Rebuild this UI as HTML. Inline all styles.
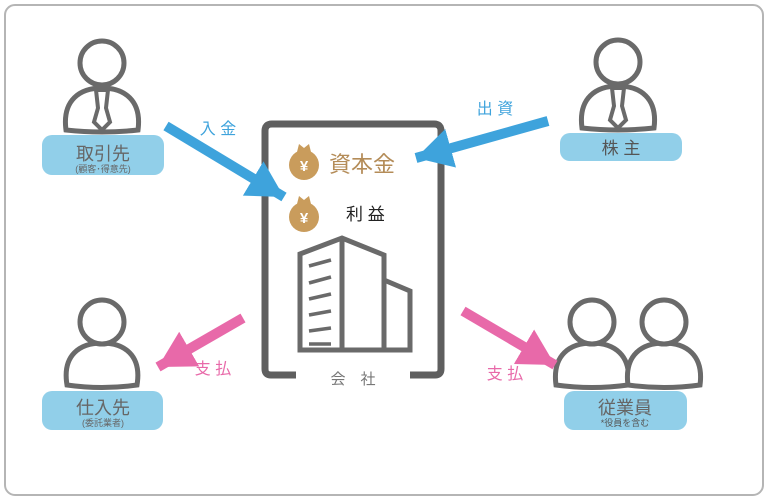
<!DOCTYPE html>
<html><head><meta charset="utf-8"><style>
html,body{margin:0;padding:0;background:#fff;}
svg{display:block;}
text{font-family:"Liberation Sans","Noto Sans CJK JP",sans-serif;}
</style></head><body>
<svg width="768" height="501" viewBox="0 0 768 501" xmlns="http://www.w3.org/2000/svg">
<defs>
<marker id="hb" markerUnits="strokeWidth" markerWidth="5" markerHeight="5" refX="3.6" refY="2" orient="auto"><path d="M0,0 L3.6,2 L0,4 Z" fill="#3ea3dc"/></marker>
<marker id="hp" markerUnits="strokeWidth" markerWidth="5" markerHeight="5" refX="3.6" refY="2" orient="auto"><path d="M0,0 L3.6,2 L0,4 Z" fill="#e869a9"/></marker>
</defs>
<rect x="5" y="5" width="758" height="490" rx="10" fill="#fff" stroke="#b5b5b5" stroke-width="2"/>

<g fill="#fff" stroke="#6a6a6a" stroke-width="5">
<path d="M66,130 C62,100 80,88 102,88 C124,88 142,100 138,130 Q102,134 66,130 Z"/>
<circle cx="102" cy="63" r="22"/>
<path d="M96,90 L108,90 L106,108 L110,122 L102,130 L94,122 L98,108 Z" stroke-width="4"/>
</g>
<rect x="42" y="135" width="122" height="40" rx="10" fill="#91cfe9"/>
<text x="103" y="160" font-size="18" fill="#666" text-anchor="middle">取引先</text>
<text x="103" y="172" font-size="9" fill="#666" text-anchor="middle">(顧客･得意先)</text>

<g fill="#fff" stroke="#6a6a6a" stroke-width="5">
<path d="M582,128 C578,98 596,86 618,86 C640,86 658,98 654,128 Q618,132 582,128 Z"/>
<circle cx="618" cy="62" r="22"/>
<path d="M612,88 L624,88 L622,106 L626,120 L618,128 L610,120 L614,106 Z" stroke-width="4"/>
</g>
<rect x="560" y="133" width="122" height="28" rx="10" fill="#91cfe9"/>
<text x="621" y="154" font-size="17" fill="#555" text-anchor="middle">株 主</text>

<g fill="#fff" stroke="#6a6a6a" stroke-width="5">
<path d="M67,385 C62,355 80,343 102,343 C124,343 142,355 137,385 Q102,390 67,385 Z"/>
<circle cx="102" cy="322" r="22"/>
</g>
<rect x="42" y="391" width="121" height="39" rx="10" fill="#91cfe9"/>
<text x="103" y="414" font-size="18" fill="#666" text-anchor="middle">仕入先</text>
<text x="103" y="426" font-size="9" fill="#666" text-anchor="middle">(委託業者)</text>

<g fill="#fff" stroke="#6a6a6a" stroke-width="5">
<path d="M556,385 C552,355 570,343 592,343 C614,343 632,355 628,385 Q592,390 556,385 Z"/>
<circle cx="592" cy="322" r="22"/>
<path d="M628,385 C624,355 642,343 664,343 C686,343 704,355 700,385 Q664,390 628,385 Z"/>
<circle cx="664" cy="322" r="22"/>
</g>
<rect x="564" y="391" width="123" height="39" rx="10" fill="#91cfe9"/>
<text x="625" y="414" font-size="18" fill="#666" text-anchor="middle">従業員</text>
<text x="625" y="426" font-size="9" fill="#555" text-anchor="middle">*役員を含む</text>

<path d="M296,375 L271,375 Q265,375 265,369 L265,131 Q265,124 272,124 L434,124 Q441,124 441,131 L441,369 Q441,375 435,375 L410,375" fill="none" stroke="#5f5f5f" stroke-width="7"/>
<text x="353" y="384" font-size="15" fill="#777" text-anchor="middle">会　社</text>

<g fill="#c99c5c">
<circle cx="304" cy="165" r="15"/><path d="M297,152 L299,144 L304,148 L309,144 L311,152 Z"/>
<circle cx="304" cy="217" r="15"/><path d="M297,204 L299,196 L304,200 L309,196 L311,204 Z"/>
</g>
<text x="304" y="171" font-size="15" fill="#fff" text-anchor="middle" font-weight="bold">¥</text>
<text x="304" y="223" font-size="15" fill="#fff" text-anchor="middle" font-weight="bold">¥</text>
<text x="329" y="172" font-size="22" fill="#b48c58">資本金</text>
<text x="346" y="220" font-size="17" fill="#222">利 益</text>

<g fill="none" stroke="#6a6a6a" stroke-width="5">
<path d="M300,350 L300,254 L342,238 L384,255 L384,350 Z"/>
<path d="M342,238 L342,350"/>
<path d="M384,280 L410,291 L410,350 L384,350"/>
<path d="M309,266 L331,260 M309,283 L331,277 M309,299 L331,294 M309,315 L331,311 M309,331 L331,328 M309,344 L331,344" stroke-width="3.5"/>
</g>

<line x1="166" y1="126" x2="284" y2="197" stroke="#3ea3dc" stroke-width="10" marker-end="url(#hb)"/>
<line x1="548" y1="121" x2="416" y2="158" stroke="#3ea3dc" stroke-width="10" marker-end="url(#hb)"/>
<line x1="243" y1="318" x2="158" y2="367" stroke="#e869a9" stroke-width="10" marker-end="url(#hp)"/>
<line x1="463" y1="311" x2="555" y2="365" stroke="#e869a9" stroke-width="10" marker-end="url(#hp)"/>
<text x="218" y="134" font-size="16" fill="#3ea3dc" text-anchor="middle">入 金</text>
<text x="495" y="114" font-size="16" fill="#3ea3dc" text-anchor="middle">出 資</text>
<text x="213" y="374" font-size="16" fill="#e869a9" text-anchor="middle">支 払</text>
<text x="505" y="379" font-size="16" fill="#e869a9" text-anchor="middle">支 払</text>
</svg>
</body></html>
